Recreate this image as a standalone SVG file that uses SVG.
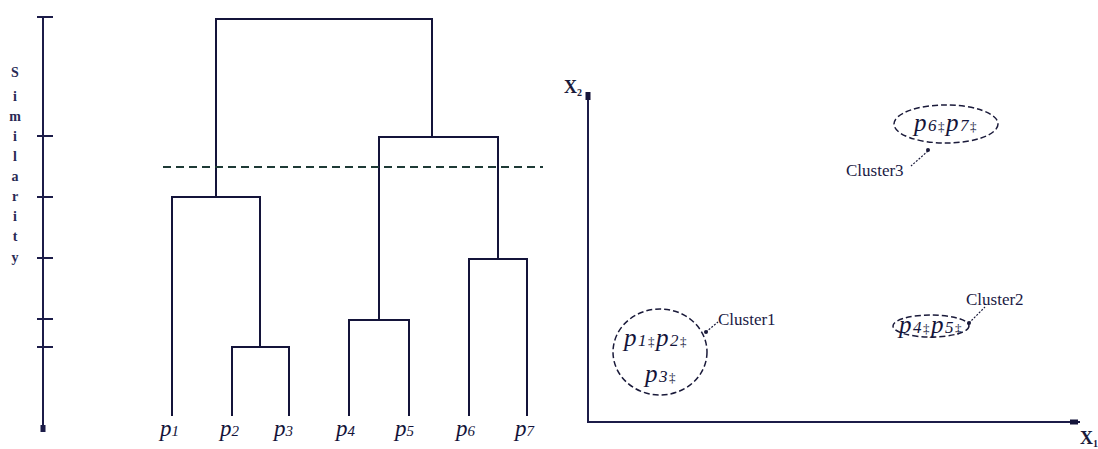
<svg xmlns="http://www.w3.org/2000/svg" width="1098" height="449" viewBox="0 0 1098 449">
<style>
.ln{stroke:#14143a;stroke-width:2;fill:none;stroke-linecap:square}
.ax{stroke:#1c1c48;stroke-width:2;fill:none}
.dash{stroke:#1e3a36;stroke-width:2;stroke-dasharray:8,5;fill:none}
.cl{stroke:#1a1a3a;stroke-width:1.5;stroke-dasharray:6,3;fill:none}
.sim{font-family:"Liberation Serif",serif;font-size:14px;font-weight:bold;fill:#2a2a55;text-anchor:middle}
.pl{font-family:"Liberation Serif",serif;font-style:italic;font-size:23px;fill:#14143a}
.sub{font-size:15px}
.cp{font-family:"Liberation Serif",serif;font-style:italic;font-size:25px;fill:#14143a;letter-spacing:1.5px}
.csub{font-size:17px}
.mk{font-size:13px;font-style:normal}
.lbl{font-family:"Liberation Serif",serif;font-size:17px;fill:#1a1a44}
.axl{font-family:"Liberation Serif",serif;font-size:18px;font-weight:bold;fill:#1a1a3a}
</style>
<rect width="1098" height="449" fill="#ffffff"/>

<g id="similarity-axis">
  <line class="ax" x1="43" y1="17" x2="43" y2="432"/>
  <line class="ax" x1="37" y1="17" x2="53" y2="17"/>
  <line class="ax" x1="37" y1="136" x2="53" y2="136"/>
  <line class="ax" x1="37" y1="197" x2="53" y2="197"/>
  <line class="ax" x1="37" y1="258" x2="53" y2="258"/>
  <line class="ax" x1="37" y1="319" x2="53" y2="319"/>
  <line class="ax" x1="37" y1="347" x2="53" y2="347"/>
  <rect x="40.5" y="425" width="5" height="7" fill="#1c1c48"/>
  <text class="sim" x="15" y="77">S</text>
  <text class="sim" x="15" y="101">i</text>
  <text class="sim" x="15" y="121">m</text>
  <text class="sim" x="15" y="141">i</text>
  <text class="sim" x="15" y="161">l</text>
  <text class="sim" x="15" y="181">a</text>
  <text class="sim" x="15" y="201">r</text>
  <text class="sim" x="15" y="221">i</text>
  <text class="sim" x="15" y="241">t</text>
  <text class="sim" x="15" y="262">y</text>
</g>

<g id="connectors">
  <path class="ln" d="M216,197 V19 H432 V137"/>
  <path class="ln" d="M172,415 V197 H260 V347"/>
  <path class="ln" d="M232,415 V347 H289 V415"/>
  <path class="ln" d="M379,320 V137 H498 V259"/>
  <path class="ln" d="M349,415 V320 H409 V415"/>
  <path class="ln" d="M469,415 V259 H527 V415"/>
</g>
<line id="cut-line" class="dash" x1="163" y1="167" x2="543" y2="167"/>

<g id="leaf-p1"><text class="pl" x="160" y="436">p<tspan class="sub">1</tspan></text></g>
<g id="leaf-p2"><text class="pl" x="220" y="436">p<tspan class="sub">2</tspan></text></g>
<g id="leaf-p3"><text class="pl" x="274" y="436">p<tspan class="sub">3</tspan></text></g>
<g id="leaf-p4"><text class="pl" x="336" y="436">p<tspan class="sub">4</tspan></text></g>
<g id="leaf-p5"><text class="pl" x="395" y="436">p<tspan class="sub">5</tspan></text></g>
<g id="leaf-p6"><text class="pl" x="456" y="436">p<tspan class="sub">6</tspan></text></g>
<g id="leaf-p7"><text class="pl" x="515" y="436">p<tspan class="sub">7</tspan></text></g>

<g id="scatter-axes">
  <line class="ax" x1="588" y1="95" x2="588" y2="422"/>
  <line class="ax" x1="587" y1="422" x2="1080" y2="422"/>
  <rect x="585.5" y="92" width="5" height="8" fill="#14143a"/>
  <rect x="1070" y="419.5" width="8" height="5" fill="#14143a"/>
  <text class="axl" x="564" y="93">X<tspan font-size="10" dy="3">2</tspan></text>
  <text class="axl" x="1080" y="444">X<tspan font-size="10" dy="3">1</tspan></text>
</g>

<g id="cluster1">
  <ellipse class="cl" cx="660" cy="352" rx="47" ry="43"/>
  <text class="cp" x="624" y="346">p<tspan class="csub">1</tspan><tspan class="mk">‡</tspan>p<tspan class="csub">2</tspan><tspan class="mk">‡</tspan></text>
  <text class="cp" x="645" y="382">p<tspan class="csub">3</tspan><tspan class="mk">‡</tspan></text>
  <line stroke="#1a1a3a" stroke-width="1.2" stroke-dasharray="2,1.5" x1="706" y1="332" x2="718" y2="322"/>
  <circle cx="706" cy="332" r="2" fill="#1a1a3a"/>
  <text class="lbl" x="718" y="325">Cluster1</text>
</g>

<g id="cluster2">
  <ellipse class="cl" cx="931" cy="326" rx="38" ry="11"/>
  <text class="cp" x="899" y="333">p<tspan class="csub">4</tspan><tspan class="mk">‡</tspan>p<tspan class="csub">5</tspan><tspan class="mk">‡</tspan></text>
  <line stroke="#1a1a3a" stroke-width="1.2" stroke-dasharray="2,1.5" x1="969" y1="323" x2="985" y2="307"/>
  <circle cx="969" cy="323" r="2" fill="#1a1a3a"/>
  <text class="lbl" x="966" y="305">Cluster2</text>
</g>

<g id="cluster3">
  <ellipse class="cl" cx="946" cy="124" rx="52" ry="19"/>
  <text class="cp" x="914" y="131">p<tspan class="csub">6</tspan><tspan class="mk">‡</tspan>p<tspan class="csub">7</tspan><tspan class="mk">‡</tspan></text>
  <line stroke="#1a1a3a" stroke-width="1.2" stroke-dasharray="2,1.5" x1="928" y1="151" x2="911" y2="166"/>
  <circle cx="928" cy="150" r="2" fill="#1a1a3a"/>
  <text class="lbl" x="846" y="176">Cluster3</text>
</g>
</svg>
